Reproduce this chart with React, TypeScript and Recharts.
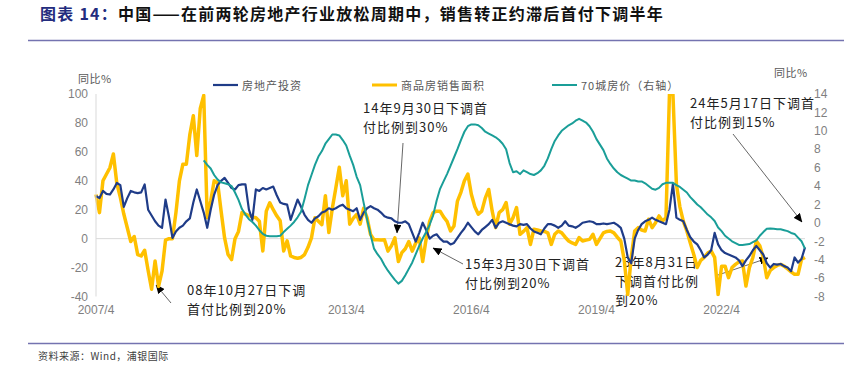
import React from 'react';
import { LineChart, Line, XAxis, YAxis, ReferenceLine } from 'recharts';

// ---- data (monthly, starting 2007/4) ----
const START_YEAR = 2007;
const START_MONTH = 4;

// 房地产投资 同比% (left axis)
const investment: number[] = [
  29.5, 28, 33, 31, 30.5, 34, 38.5, 37, 22, 28,
  33, 32, 31.5, 32, 37.5, 20, 16, 12, 9, 7.5,
  27, 15, 0.5, 5, 7.5, 9, 12, 14, 25, 34,
  26, 18, 7.5, 20, 30.5, 37, 40, 42, 38.5, 35,
  34, 37, 37.5, 37.5, 20, 13, 34, 33, 35, 34,
  35, 36, 30, 25, 24, 23.5, 13, 20, 27, 22,
  16.5, 13, 11, 14, 15.5, 18, 19, 21, 20, 21,
  22.5, 23.5, 21, 20, 19, 21, 13, 18, 21, 22.5,
  21, 20, 18, 15.5, 14.5, 14, 12, 11, 11, 12,
  10, 4, -2, 4, 11, 6, 0, 2, 3, 0,
  -2, -2, -4, -3, 0.5, 4, 7, 11, 8, 5,
  3, 6, 8, 10, 13, 7.5, 11, 12, 11, 10,
  9, 8.5, 10, 9.5, 10, 7, 5, 4, 3, 7,
  10, 10, 9, 7.5, 9, 12, 9, 8.5, 7.5, 9,
  11, 11.5, 12, 11.5, 10, 10, 10.5, 10, 10.5, 11,
  9.5, 7.5, 0, -13, -17, 0, 6, 10, 12, 13,
  14.5, 13, 12, 11, 10, 20, 38, 14.5, 13, 12,
  6, 1, -2, -4, -8, -13, -11, -8, 4, -4,
  -8, -10, -11, -12, -13, -15, -19, -15, -12, -8,
  -5, -8, -11, -17, -20, -17.5, -18, -17.5, -19, -20,
  -22.5, -13, -16.5, -14, -6,
];

// 商品房销售面积 同比% (left axis)
const salesArea: number[] = [
  30.5, 18, 40, 44.5, 49, 58.5, 38, 28.5, 17, 7.5,
  -2, 1.5, -11, -12, -8, -22, -35, -15.5, -33, -22.5,
  -1, 0, 0, 18, 40, 51.5, 51.5, 72, 85, 57.5,
  90, 99, 14.5, 26, 40, 38.5, 19, 0.5, -11, -14.5,
  0, 5, 18, 17, 16, 15, 14.5, 12, -8.5, 19,
  24.8, 20, 15.8, 12.3, -8.5, -1.5, -12, -13, -13.5, -13,
  -11, -6, 0.5, 14.4, 12, 9.7, 29.7, 4.2, 21, 35,
  49.4, 29.7, 40, 10, 14, 16.7, 10, 21, 14.4, 2.8,
  -0.7, -0.7, -1, -0.7, -8.6, -5, 0.5, -15.8, -9.7, -7,
  -2, -8.6, -3, 0.5, -15.8, 0, 12, 18, 19, 19,
  15, 12, 5.3, 8.8, 26, 32, 40, 44.6, 30.7, 22,
  16.9, 19, 28, 34, 19, 7.6, 18, 20, 25, 10,
  14.5, 21.5, 3, 5, 7.6, -4, 6.5, 6, 5.3, 5,
  4, -4, 3, 5.3, 4, 1, -1.6, -3, -4, 0.7,
  -1.6, -1, -0.5, 3, -4, 0, 4, 5, 5.3, 4,
  1, -1.6, -15, -38.6, -13, 5.3, 7.6, 6, 5.3, 13.4,
  7.6, 11, 15.7, 12.2, 14.5, 100, 100, 37.6, 22, 12,
  5.3, -3, -11, -20, -15, -13, -10, -8.5, -13, -38.6,
  -19, -19, -27, -20, -17.8, -16, -15.5, -32.8, -20, -13,
  -1.6, -5, -13, -27, -22, -20, -18.5, -17.8, -19, -21,
  -23, -24.7, -24.7, -14.3, -13,
];

// 70城房价 同比% (right axis), starts at month index 31
const PRICE_OFFSET = 31;
const price70: number[] = [
  6.8, 6.3, 5.9, 5.2, 4.7, 4.4, 4.3, 4.2, 4, 3.3,
  2.5, 1.5, 0.9, 0.4, 0.1, -0.3, -0.8, -1.2, -1.4, -1.45,
  -1.45, -1.45, -1.4, -1, -0.65, -0.3, 0.1, 0.6, 1.2, 2.6,
  4.1, 5.2, 6.3, 7.2, 7.8, 8.6, 9.1, 9.6, 9.6, 9.5,
  9, 8.4, 7.3, 6.3, 5, 4.1, 2.2, 0.4, -1.3, -2.8,
  -3.4, -3.9, -4.6, -5.2, -5.7, -6.2, -6.6, -6.3, -5.7, -5,
  -4.3, -3.4, -2.5, -1.7, -1, -0.2, 0.8, 2.4, 3.7, 4.5,
  5.3, 6.2, 7.1, 8, 9, 9.9, 10.5, 10.7, 10.7, 10.6,
  10.3, 9.9, 9.7, 9.5, 9.3, 9, 8.6, 8, 6.5, 5.5,
  5.6, 5.3, 5.7, 5.5, 5.3, 5.2, 5.4, 5.7, 6.2, 7,
  8, 8.9, 9.5, 10, 10.3, 10.6, 10.8, 11.1, 11.3, 11.1,
  10.9, 10.5, 9.9, 9.1, 8.5, 7.9, 7, 6.4, 5.9, 5.5,
  5.2, 5, 4.8, 4.6, 4.6, 4.5, 4.5, 4.3, 4, 3.7,
  3.6, 3.8, 4.2, 4.35, 4.35, 4.35, 4.1, 3.9, 3.6, 3.3,
  2.8, 2.4, 2, 1.7, 1.3, 0.9, 0.6, 0.2, -0.5, -0.9,
  -1.4, -1.7, -2, -2.2, -2.4, -2.4, -2.35, -2.3, -2.1, -1.9,
  -1.4, -1, -0.65, -0.6, -0.65, -0.7, -0.7, -0.8, -0.9, -1.1,
  -1.2, -1.6, -2, -2.8,
];

const months: string[] = investment.map((_, i) => {
  const m = START_MONTH - 1 + i;
  return `${START_YEAR + Math.floor(m / 12)}/${(m % 12) + 1}`;
});

const xTickLabels = ['2007/4', '2013/4', '2016/4', '2019/4', '2022/4'];
const leftTicks = [-40, -20, 0, 20, 40, 60, 80, 100];
const rightTicks = [-8, -6, -4, -2, 0, 2, 4, 6, 8, 10, 12, 14];

const seriesMeta = [
  { key: 'sales', name: '商品房销售面积', color: '#FFC000', width: 3.5, axis: 'left' },
  { key: 'investment', name: '房地产投资', color: '#1F3C88', width: 2.2, axis: 'left' },
  { key: 'price', name: '70城房价（右轴）', color: '#1A9E98', width: 2, axis: 'right' },
];

const data = months.map((m, i) => ({
  i,
  month: m,
  investment: investment[i],
  sales: salesArea[i],
  price: i >= PRICE_OFFSET ? price70[i - PRICE_OFFSET] : null,
}));

const title = { lead: '图表 14：', rest: '中国——在前两轮房地产行业放松周期中，销售转正约滞后首付下调半年' };
const source = '资料来源：Wind，浦银国际';

const annotations = [
  { lines: ['14年9月30日下调首', '付比例到30%'], x: 363, y: 107, from: [403, 143], to: [397, 233] },
  { lines: ['08年10月27日下调', '首付比例到20%'], x: 187, y: 289, from: [171, 303], to: [156, 285] },
  { lines: ['15年3月30日下调首', '付比例到20%'], x: 465, y: 263, from: [463, 264], to: [433, 248] },
  { lines: ['23年8月31日', '下调首付比例', '到20%'], x: 615, y: 261, from: [718, 275], to: [768, 258] },
  { lines: ['24年5月17日下调首', '付比例到15%'], x: 690, y: 102, from: [733, 134], to: [802, 222] },
];

const legendPos = [
  { key: 'investment', x: 213 },
  { key: 'sales', x: 372 },
  { key: 'price', x: 552 },
];

const CJK = "'Noto Sans CJK SC', 'Noto Sans', sans-serif";
const NUM = "'Liberation Sans', Arial, sans-serif";
const tickStyle = { fontFamily: NUM, fontSize: 12, fill: '#7f7f7f' };

export default function App() {
  return (
    <div style={{ position: 'absolute', left: 0, top: 0, width: 844, height: 366, background: '#fff', overflow: 'hidden' }}>
      <svg width={844} height={366} style={{ position: 'absolute', left: 0, top: 0 }}>
        <defs>
          <marker id="ah" markerWidth="9" markerHeight="8" refX="8.5" refY="4" orient="auto" markerUnits="userSpaceOnUse">
            <path d="M0,0 L9,4 L0,8 z" fill="#000" />
          </marker>
        </defs>
        <text x={40} y={13} dominantBaseline="central" fontFamily={CJK} fontSize={16} fontWeight={700} letterSpacing={1.25}>
          <tspan fill="#232C7E">{title.lead}</tspan>
          <tspan fill="#111">{title.rest}</tspan>
        </text>
        <line x1={28} x2={844} y1={40.5} y2={40.5} stroke="#7473B0" strokeWidth={1.3} />
        <line x1={28} x2={844} y1={343.5} y2={343.5} stroke="#7473B0" strokeWidth={1.3} />
        <text x={38} y={355} dominantBaseline="central" fontFamily={CJK} fontSize={10} fill="#404040" letterSpacing={0.5}>{source}</text>

        <text x={78} y={78} dominantBaseline="central" fontFamily={CJK} fontSize={11} fill="#595959" letterSpacing={0.5}>同比%</text>
        <text x={774} y={72} dominantBaseline="central" fontFamily={CJK} fontSize={11} fill="#595959" letterSpacing={0.5}>同比%</text>

        {legendPos.map((lp) => {
          const s = seriesMeta.find((m) => m.key === lp.key)!;
          return (
            <g key={lp.key}>
              <line x1={lp.x} x2={lp.x + 25} y1={85} y2={85} stroke={s.color} strokeWidth={Math.min(s.width, 3)} />
              <text x={lp.x + 29} y={85} dominantBaseline="central" fontFamily={CJK} fontSize={11} fill="#595959" letterSpacing={1}>{s.name}</text>
            </g>
          );
        })}

        {annotations.map((a, k) => (
          <g key={k}>
            {a.lines.map((t, j) => (
              <text key={j} x={a.x} y={a.y + j * 19} dominantBaseline="central" fontFamily={CJK} fontSize={13} fill="#222" letterSpacing={1}>{t}</text>
            ))}
            <line x1={a.from[0]} y1={a.from[1]} x2={a.to[0]} y2={a.to[1]} stroke="#404040" strokeWidth={0.8} markerEnd="url(#ah)" />
          </g>
        ))}
      </svg>

      <div style={{ position: 'absolute', left: 0, top: 0 }}>
        <LineChart width={844} height={366} data={data} margin={{ top: 94, right: 0, bottom: 39.5, left: 56 }}>
          <XAxis
            dataKey="i"
            type="number"
            domain={[0, months.length - 1]}
            ticks={xTickLabels.map((l) => months.indexOf(l))}
            tickFormatter={(v: number) => months[v]}
            interval={0}
            axisLine={false}
            tickLine={false}
            tickSize={0}
            tickMargin={9}
            height={30}
            tick={tickStyle}
          />
          <YAxis
            yAxisId="left"
            domain={[-40, 100]}
            ticks={leftTicks}
            interval={0}
            allowDataOverflow
            axisLine={{ stroke: '#d9d9d9' }}
            tickLine={false}
            tickSize={0}
            tickMargin={8}
            width={40}
            tick={tickStyle}
          />
          <YAxis
            yAxisId="right"
            orientation="right"
            domain={[-8, 14]}
            ticks={rightTicks}
            interval={0}
            axisLine={false}
            tickLine={false}
            tickSize={0}
            tickMargin={9}
            width={39}
            tick={tickStyle}
          />
          <ReferenceLine yAxisId="left" y={0} stroke="#d9d9d9" strokeWidth={1} />
          {seriesMeta.map((s) => (
            <Line
              key={s.key}
              yAxisId={s.axis}
              dataKey={s.key}
              name={s.name}
              type="linear"
              stroke={s.color}
              strokeWidth={s.width}
              dot={false}
              activeDot={false}
              isAnimationActive={false}
              strokeLinejoin="round"
            />
          ))}
        </LineChart>
      </div>
    </div>
  );
}
